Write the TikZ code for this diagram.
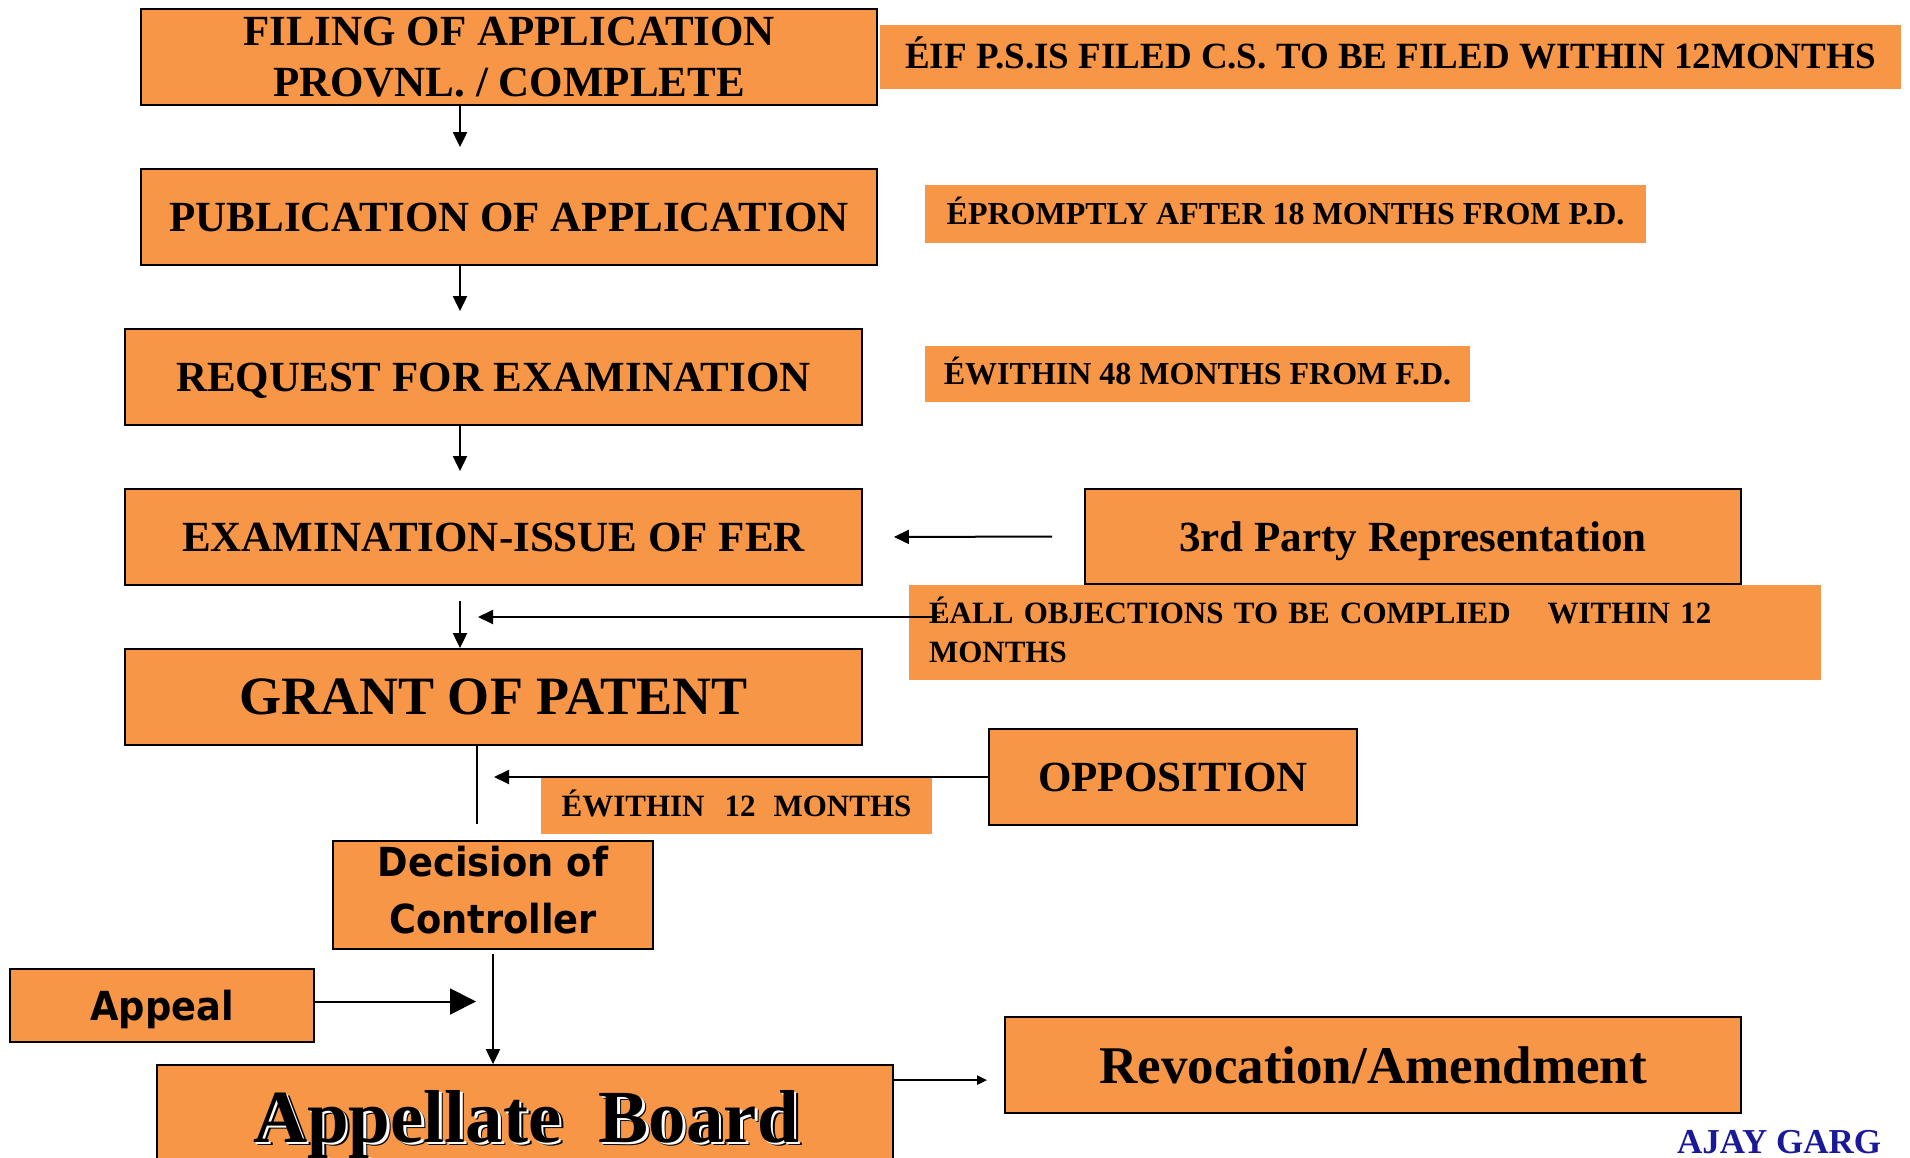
\documentclass[tikz,border=0pt]{standalone}
\usepackage{fontspec}
\setmainfont{Liberation Serif}
\newfontfamily\tahomafont{DejaVu Sans}[FakeStretch=0.92]
\usetikzlibrary{arrows.meta}
\definecolor{patorange}{RGB}{247,150,70}
\definecolor{ajayblue}{RGB}{26,26,153}
\tikzset{
	stage/.style={draw=black, line width=1.8pt, fill=patorange, inner sep=0pt, align=center},
	note/.style={fill=patorange, inner sep=0pt, text depth=0pt},
	flow/.style={line width=2pt, -{Triangle[length=15pt,width=14pt]}},
	boardtext/.style={anchor=base, inner sep=0pt, font={\fontsize{75}{75}\selectfont\bfseries}},
}
\begin{document}
\begin{tikzpicture}[x=1pt, y=-1pt]
				\useasboundingbox (0,0) rectangle (1910,1158);
				\clip (0,0) rectangle (1910,1158);
				\coordinate (spine) at (460,0);
				\coordinate (stem) at (477,0);
				\node[stage, minimum width=736pt, minimum height=96pt, font={\fontsize{43}{51}\selectfont\bfseries}] (filing) at (509,57) {FILING OF APPLICATION\\PROVNL. / COMPLETE};
				\node[note, minimum width=1021pt, minimum height=64pt, text height=24pt, font={\fontsize{37}{37}\selectfont\bfseries}] (ifnote) at (1390.5,57) {ÉIF P.S.IS FILED C.S. TO BE FILED WITHIN 12MONTHS};
				\node[stage, minimum width=736pt, minimum height=96pt, text depth=0pt, font={\fontsize{43}{43}\selectfont\bfseries}] (publication) at (509,217) {PUBLICATION OF APPLICATION};
				\node[note, minimum width=721pt, minimum height=58pt, text height=21pt, font={\fontsize{32}{32}\selectfont\bfseries}] (promptnote) at (1285.5,214) {ÉPROMPTLY AFTER 18 MONTHS FROM P.D.};
				\node[stage, minimum width=737pt, minimum height=96pt, text depth=0pt, font={\fontsize{43}{43}\selectfont\bfseries}] (request) at (493.5,377) {REQUEST FOR EXAMINATION};
				\node[note, minimum width=545pt, minimum height=56pt, text height=21pt, font={\fontsize{32}{32}\selectfont\bfseries}] (withinnote) at (1197.5,374) {ÉWITHIN 48 MONTHS FROM F.D.};
				\node[stage, minimum width=737pt, minimum height=96pt, text depth=0pt, font={\fontsize{43}{43}\selectfont\bfseries}] (exam) at (493.5,537) {EXAMINATION-ISSUE OF FER};
				\node[stage, minimum width=656pt, minimum height=95pt, text depth=0pt, font={\fontsize{43}{43}\selectfont\bfseries}] (thirdparty) at (1413,536.5) {3rd Party Representation};
				\node[note, minimum width=912pt, minimum height=95pt, inner xsep=20pt, text width=872pt, text height=22pt, text depth=41pt, align=left, font={\fontsize{31}{39}\selectfont\bfseries}] (allnote) at (1365,632.5) {ÉALL OBJECTIONS TO BE COMPLIED\hspace{37pt}WITHIN 12\\MONTHS};
				\node[stage, minimum width=737pt, minimum height=96pt, text depth=0pt, font={\fontsize{54}{54}\selectfont\bfseries}] (grant) at (493.5,697) {GRANT OF PATENT};
				\node[stage, minimum width=368pt, minimum height=96pt, text depth=0pt, font={\fontsize{43}{43}\selectfont\bfseries}] (opposition) at (1173,777) {OPPOSITION};
				\node[note, minimum width=391pt, minimum height=56pt, text height=20pt, font={\fontsize{31}{31}\selectfont\bfseries}] (oppnote) at (736.5,806) {ÉWITHIN\hspace{20pt}12\hspace{18pt}MONTHS};
				\node[stage, minimum width=320pt, minimum height=108pt, text height=86pt, text depth=10pt, font={\fontsize{40}{57}\selectfont\tahomafont\bfseries}] (decision) at (493,895) {Decision of\\Controller};
				\node[stage, minimum width=304pt, minimum height=73pt, text depth=0pt, font={\fontsize{40}{40}\selectfont\tahomafont\bfseries}] (appeal) at (162,1005.5) {Appeal};
				\node[stage, minimum width=736pt, minimum height=110pt] (appellate) at (525,1120) {};
				\node[boardtext] (boardshadow) at (530,1145) {Appellate~~Board};
				\node[boardtext, text=white] (boardglow) at (528.5,1144) {Appellate~~Board};
				\node[boardtext] (board) at (526,1142) {Appellate~~Board};
				\node[stage, minimum width=736pt, minimum height=96pt, text depth=0pt, font={\fontsize{53}{53}\selectfont\bfseries}] (revocation) at (1373,1065) {Revocation/Amendment};
				\node[anchor=base west, inner sep=0pt, text=ajayblue, font={\fontsize{35}{35}\selectfont\bfseries}] (author) at (1677,1153) {AJAY GARG};
				\draw[flow, shorten >=21pt] (filing.south -| spine) -- (publication.north -| spine);
				\draw[flow, shorten >=17pt] (publication.south -| spine) -- (request.north -| spine);
				\draw[flow, shorten >=17pt] (request.south -| spine) -- (exam.north -| spine);
				\draw[flow, shorten <=15pt] (exam.south -| spine) -- (grant.north -| spine);
				\draw[flow, shorten <=32pt, shorten >=31pt] (thirdparty.west) -- (exam.east);
				\coordinate (objtail) at ([xshift=31pt,yshift=15.5pt]allnote.west);
				\draw[flow, shorten >=18pt] (objtail) -- (objtail -| spine);
				\draw[line width=2pt, shorten >=16pt] (grant.south -| stem) -- (decision.north -| stem);
				\draw[flow, shorten >=17pt] (opposition.west) -- (opposition.west -| stem);
				\draw[flow, shorten <=4pt] (decision.south) -- (decision.south |- appellate.north);
				\draw[line width=2pt, -{Triangle[length=26pt,width=26pt]}, shorten >=17pt] ([yshift=4pt]appeal.east) -- ([yshift=4pt]appeal.east -| decision.south);
				\draw[line width=2pt, -{Triangle[length=10pt,width=9pt]}, shorten >=17pt] ([yshift=-16pt]appellate.north east) -- ([yshift=-16pt]appellate.north east -| revocation.west);
\end{tikzpicture}
\end{document}
